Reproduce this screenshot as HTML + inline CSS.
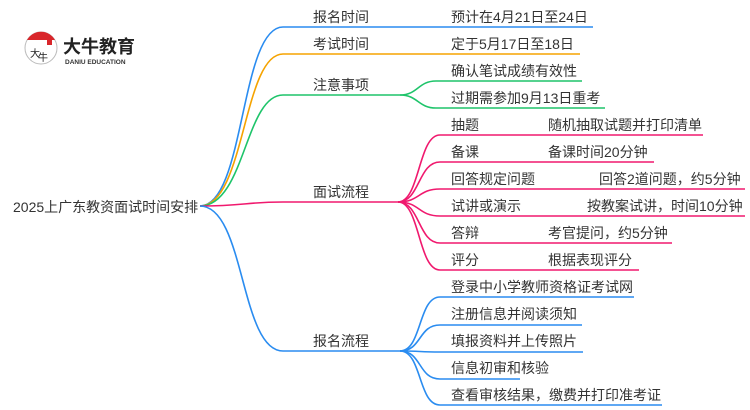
<!DOCTYPE html>
<html><head><meta charset="utf-8"><style>
html,body{margin:0;padding:0;background:#fff;width:750px;height:410px;overflow:hidden}
text{font-family:"Liberation Sans","Noto Sans CJK SC",sans-serif;font-size:14px;fill:#333}
</style></head><body>
<svg width="750" height="410" viewBox="0 0 750 410" xmlns="http://www.w3.org/2000/svg">
<g fill="none" stroke-width="1.6">
<path d="M200 206 C245 206,240 27,283 27 L593 27" stroke="#2a8cf0"/>
<path d="M200 206 C245 206,243 54,283 54 L580 54" stroke="#f5a300"/>
<path d="M200 206 C245 206,245 95,283 95 L400 95" stroke="#1ec46a"/>
<path d="M200 206 C245 206,245 202,283 202 L398 202" stroke="#f0196e"/>
<path d="M200 206 C245 206,240 351,283 351 L400 351" stroke="#2a8cf0"/>
<path d="M400 95 C418 95,418 81,436 81 L582 81" stroke="#1ec46a"/>
<path d="M400 95 C418 95,418 108,436 108 L605 108" stroke="#1ec46a"/>
<path d="M398 202 C420 202,418 135,440 135 L703 135" stroke="#f0196e"/>
<path d="M398 202 C420 202,418 162,440 162 L654 162" stroke="#f0196e"/>
<path d="M398 202 C420 202,418 189,440 189 L745 189" stroke="#f0196e"/>
<path d="M398 202 C420 202,418 216,440 216 L745 216" stroke="#f0196e"/>
<path d="M398 202 C420 202,418 243,440 243 L672 243" stroke="#f0196e"/>
<path d="M398 202 C420 202,418 270,440 270 L639 270" stroke="#f0196e"/>
<path d="M400 351 C422 351,418 297,440 297 L634 297" stroke="#2a8cf0"/>
<path d="M400 351 C422 351,418 325,440 325 L582 325" stroke="#2a8cf0"/>
<path d="M400 351 C422 351,418 352,440 352 L583 352" stroke="#2a8cf0"/>
<path d="M400 351 C422 351,418 379,440 379 L520 379" stroke="#2a8cf0"/>
<path d="M400 351 C422 351,418 405,440 405 L662 405" stroke="#2a8cf0"/>
</g>
<circle cx="41" cy="48" r="16" fill="#fff" stroke="#bbb" stroke-width="1"/>
<path d="M27 40 A16 16 0 0 1 55 40 Z" fill="#d9262b"/>
<rect x="47" y="38" width="5" height="7" fill="#d9262b"/>
<text x="30" y="57" style="font-size:10px;fill:#222">大</text>
<text x="38" y="61" style="font-size:10px;fill:#222">牛</text>
<text x="63" y="53" style="font-size:18px;font-weight:bold;fill:#222">大牛教育</text>
<text x="65" y="64" style="font-size:6.5px;font-weight:bold;fill:#333">DANIU EDUCATION</text>
<text x="13" y="212">2025上广东教资面试时间安排</text>
<text x="313" y="22">报名时间</text>
<text x="313" y="49">考试时间</text>
<text x="313" y="90">注意事项</text>
<text x="313" y="197">面试流程</text>
<text x="313" y="346">报名流程</text>
<text x="451" y="22">预计在4月21日至24日</text>
<text x="451" y="49">定于5月17日至18日</text>
<text x="451" y="76">确认笔试成绩有效性</text>
<text x="451" y="103">过期需参加9月13日重考</text>
<text x="451" y="130">抽题</text><text x="548" y="130">随机抽取试题并打印清单</text>
<text x="451" y="157">备课</text><text x="548" y="157">备课时间20分钟</text>
<text x="451" y="184">回答规定问题</text><text x="599" y="184">回答2道问题，约5分钟</text>
<text x="451" y="211">试讲或演示</text><text x="587" y="211">按教案试讲，时间10分钟</text>
<text x="451" y="238">答辩</text><text x="548" y="238">考官提问，约5分钟</text>
<text x="451" y="265">评分</text><text x="548" y="265">根据表现评分</text>
<text x="451" y="292">登录中小学教师资格证考试网</text>
<text x="451" y="319">注册信息并阅读须知</text>
<text x="451" y="346">填报资料并上传照片</text>
<text x="451" y="373">信息初审和核验</text>
<text x="451" y="400">查看审核结果，缴费并打印准考证</text>
</svg>
</body></html>
